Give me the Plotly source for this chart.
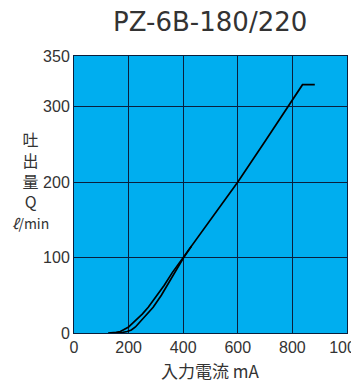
import plotly.graph_objects as go

# Curve A (upper / left)
xa = [125, 140, 155, 170, 185, 200, 215, 230, 250, 272, 300, 330, 360, 400, 500, 600, 700, 784, 837, 882]
ya = [0, 0.2, 0.8, 2, 4.5, 8, 13, 18, 25, 34, 48, 63, 80, 100, 150, 200, 254, 300, 329, 329]
# Curve B (lower / right)
xb = [135, 150, 165, 180, 195, 210, 225, 240, 260, 290, 320, 345, 372, 400, 430]
yb = [0, 0.1, 0.4, 1, 2, 4, 8, 14, 22, 34, 50, 65, 82, 99, 115]

x_ticks = [0, 200, 400, 600, 800, 1000]
y_tickvals = [0, 100, 200, 300, 367]
y_ticktext = ["0", "100", "200", "300", "350"]

fig = go.Figure()
fig.add_trace(go.Scatter(x=xa, y=ya, mode="lines", line=dict(color="black", width=1.7), hoverinfo="skip"))
fig.add_trace(go.Scatter(x=xb, y=yb, mode="lines", line=dict(color="black", width=1.7), hoverinfo="skip"))

fig.update_layout(
    width=351, height=377,
    margin=dict(l=66, r=12, t=48, b=52, autoexpand=False),
    paper_bgcolor="white",
    plot_bgcolor="#00AEEF",
    showlegend=False,
    font=dict(family="Liberation Sans, Arial, sans-serif", color="#333", size=16),
    title=dict(text="PZ-6B-180/220", x=0.576, xanchor="center", y=1 - 14 / 377, yanchor="middle",
               font=dict(size=26, color="#333", family="DejaVu Sans, sans-serif")),
)
fig.update_xaxes(range=[0, 1000], tickvals=x_ticks, ticks="", showgrid=True,
                 gridcolor="#0a1f3c", gridwidth=1, zeroline=False, automargin=False,
                 ticklabeloverflow="allow",
                 showline=True, linecolor="#0a1f3c", linewidth=1, mirror=True,
                 tickfont=dict(size=16, color="#333"))
fig.update_yaxes(range=[0, 367], tickvals=y_tickvals, ticktext=y_ticktext, ticks="",
                 showgrid=True, gridcolor="#0a1f3c", gridwidth=1, zeroline=False, automargin=False,
                 ticklabeloverflow="allow",
                 showline=True, linecolor="#0a1f3c", linewidth=1, mirror=True,
                 tickfont=dict(size=16, color="#333"))

fig.add_annotation(xref="paper", yref="paper", x=0.5, y=-(362 - 324.7) / 276.7, yanchor="middle", xanchor="center",
                   text="入力電流 mA", showarrow=False,
                   font=dict(size=17, color="#333", family="Noto Sans CJK JP, sans-serif"))
fig.add_annotation(xref="paper", yref="paper", x=-0.161, y=0.552, xanchor="center", yanchor="middle",
                   text="吐<br>出<br>量<br>Q<br><span style='font-size:14px'><i>ℓ</i>/min</span>",
                   showarrow=False, align="center",
                   font=dict(size=16, color="#333", family="Noto Sans CJK JP, sans-serif"))

fig.write_html("out.html")
